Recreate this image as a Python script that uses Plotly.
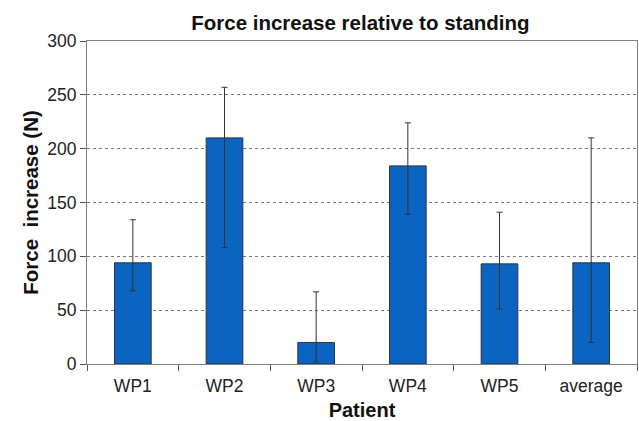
import plotly.graph_objects as go

patients = ["WP1", "WP2", "WP3", "WP4", "WP5", "average"]
force_increase = [94, 210, 20, 184, 93, 94]
err_plus = [40, 47, 47, 40, 48, 116]
err_minus = [26, 102, 18, 45, 42, 74]
y_ticks = [0, 50, 100, 150, 200, 250, 300]

fig = go.Figure()
fig.add_trace(go.Bar(
    x=patients,
    y=force_increase,
    width=0.4,
    marker=dict(color="#0a64c0", line=dict(color="#2b3440", width=1)),
    error_y=dict(
        type="data",
        symmetric=False,
        array=err_plus,
        arrayminus=err_minus,
        color="#333333",
        thickness=1,
        width=3,
    ),
))

font_family = "Liberation Sans, Arial, sans-serif"

fig.update_layout(
    width=639,
    height=421,
    margin=dict(l=87, r=2, t=41, b=57),
    paper_bgcolor="white",
    plot_bgcolor="white",
    showlegend=False,
    font=dict(family=font_family, color="#222222", size=17.5),
    title=dict(
        text="<b>Force increase relative to standing</b>",
        x=0.564, xanchor="center",
        y=0.945, yanchor="middle",
        font=dict(size=20.5, color="#111111"),
    ),
    xaxis=dict(
        showline=True, linecolor="#808080", linewidth=1, mirror=True,
        ticks="outside", tickson="boundaries", ticklen=6, tickcolor="#555555",
        tickfont=dict(size=17.5, color="#222222"),
        ticklabelstandoff=6,
        title=dict(text="<b>Patient</b>", font=dict(size=20, color="#111111"), standoff=8),
        showgrid=False,
    ),
    yaxis=dict(
        range=[0, 300],
        tickvals=y_ticks,
        showline=True, linecolor="#808080", linewidth=1, mirror=True,
        ticks="outside", ticklen=6, tickcolor="#555555",
        tickfont=dict(size=17.5, color="#222222"),
        showgrid=True, gridcolor="#777777", griddash="dot", gridwidth=1,
        zeroline=False,
        title=dict(text="<b>Force  increase (N)</b>", font=dict(size=20.5, color="#111111"), standoff=3),
    ),
)

fig.write_html("out.html")
